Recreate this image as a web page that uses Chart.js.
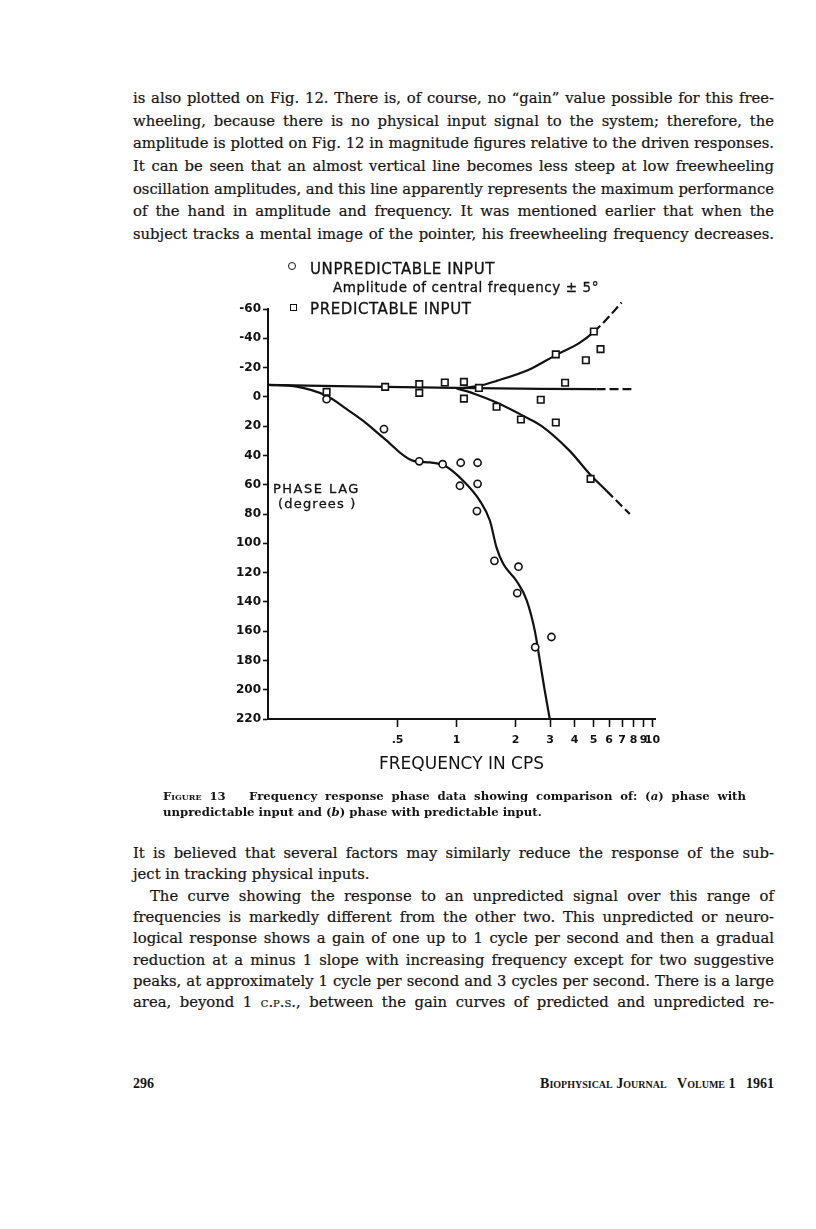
<!DOCTYPE html>
<html>
<head>
<meta charset="utf-8">
<script src="https://cdn.jsdelivr.net/npm/chart.js@4.4.1/dist/chart.umd.min.js"></script>
<style>
  html, body { margin: 0; padding: 0; background: #fff; }
  #page { position: relative; width: 816px; height: 1229px; overflow: hidden; color: #141414;
          font-family: 'DejaVu Serif', 'Liberation Serif', serif; }
  .ln { position: absolute; left: 133px; width: 641px; font-size: 14.8px; line-height: 20px;
        white-space: nowrap; text-align: justify; text-align-last: justify; -webkit-text-stroke: 0.2px #141414; }
  .ln.last { text-align: left; text-align-last: left; }
  .ln.ind { left: 150px; width: 624px; }
  .cap { position: absolute; left: 163px; width: 583px; font-size: 11.7px; line-height: 16px;
         font-weight: bold; white-space: nowrap; text-align: justify; text-align-last: justify; }
  .cap.last { text-align: left; text-align-last: left; }
  .sc { font-variant: small-caps; }
  .lab { position: absolute; font-family: 'DejaVu Sans', sans-serif; white-space: nowrap; color: #111;
         -webkit-text-stroke: 0.3px #111; }
  .mk { position: absolute; border: 1.6px solid #111; box-sizing: border-box; background: #fff; }
  .foot { position: absolute; top: 1076px; font-family: 'Liberation Serif', serif; font-size: 14px;
          line-height: 16px; font-weight: bold; }
  #chartBox { position: absolute; left: 200px; top: 290px; width: 480px; height: 500px; }
</style>
</head>
<body>
<div id="page">

  <!-- text above the figure -->
  <div class="ln" style="top:88px">is also plotted on Fig. 12. There is, of course, no “gain” value possible for this free-</div>
  <div class="ln" style="top:111px">wheeling, because there is no physical input signal to the system; therefore, the</div>
  <div class="ln" style="top:133px">amplitude is plotted on Fig. 12 in magnitude figures relative to the driven responses.</div>
  <div class="ln" style="top:156px">It can be seen that an almost vertical line becomes less steep at low freewheeling</div>
  <div class="ln" style="top:179px">oscillation amplitudes, and this line apparently represents the maximum performance</div>
  <div class="ln" style="top:201px">of the hand in amplitude and frequency. It was mentioned earlier that when the</div>
  <div class="ln" style="top:224px">subject tracks a mental image of the pointer, his freewheeling frequency decreases.</div>

  <!-- figure -->
  <div id="chartBox"><canvas id="phaseChart"></canvas></div>

  <div class="mk" style="left:288px; top:262px; width:8px; height:8px; border-radius:50%"></div>
  <div class="lab" style="left:310px; top:262px; font-size:15px; line-height:15px; letter-spacing:0.6px">UNPREDICTABLE INPUT</div>
  <div class="lab" style="left:333px; top:281px; font-size:13.5px; line-height:13.5px; letter-spacing:0.6px">Amplitude of central frequency ± 5°</div>
  <div class="mk" style="left:290px; top:304px; width:7px; height:7px"></div>
  <div class="lab" style="left:310px; top:302px; font-size:15px; line-height:15px; letter-spacing:0.6px">PREDICTABLE INPUT</div>
  <div class="lab" style="left:273px; top:482px; font-size:13px; line-height:13px; letter-spacing:1.5px; background:#fff">PHASE LAG</div>
  <div class="lab" style="left:278px; top:497px; font-size:13px; line-height:13px; letter-spacing:1.2px; background:#fff">(degrees )</div>

  <!-- caption -->
  <div class="cap" style="top:788px"><span class="sc">Figure</span> 13&nbsp;&nbsp; Frequency response phase data showing comparison of: (<i>a</i>) phase with</div>
  <div class="cap last" style="top:804px">unpredictable input and (<i>b</i>) phase with predictable input.</div>

  <!-- text below the figure -->
  <div class="ln" style="top:843px">It is believed that several factors may similarly reduce the response of the sub-</div>
  <div class="ln last" style="top:864px">ject in tracking physical inputs.</div>
  <div class="ln ind" style="top:886px">The curve showing the response to an unpredicted signal over this range of</div>
  <div class="ln" style="top:907px">frequencies is markedly different from the other two. This unpredicted or neuro-</div>
  <div class="ln" style="top:928px">logical response shows a gain of one up to 1 cycle per second and then a gradual</div>
  <div class="ln" style="top:950px">reduction at a minus 1 slope with increasing frequency except for two suggestive</div>
  <div class="ln" style="top:971px">peaks, at approximately 1 cycle per second and 3 cycles per second. There is a large</div>
  <div class="ln" style="top:992px">area, beyond 1 <span class="sc">c.p.s.</span>, between the gain curves of predicted and unpredicted re-</div>

  <!-- running foot -->
  <div class="foot" style="left:133px">296</div>
  <div class="foot" style="right:42px"><span class="sc">Biophysical Journal</span>&nbsp;&nbsp; <span class="sc">Volume</span> 1&nbsp;&nbsp; 1961</div>
</div>

<script>
// measured points, unpredictable input (circles)
const unpredFreq  = [0.217, 0.426, 0.645, 0.849, 1.05, 1.28, 1.04, 1.28, 1.27, 1.56, 2.07, 2.04, 2.52, 3.05];
const unpredPhase = [1.6, 22, 44, 46, 45, 45, 60.7, 59.4, 78, 112, 116, 134, 171, 164];

// measured points, predictable input (squares)
const predFreq  = [0.217, 0.432, 0.645, 0.645, 0.871, 1.09, 1.09, 1.30, 1.60, 2.13, 2.69, 3.21, 3.21, 3.58, 4.57, 5.02, 5.43, 4.83];
const predPhase = [-3.4, -6.8, -8.7, -2.7, -9.8, -10.2, 1.2, -6.1, 6.8, 15.5, 2, -29, 17.5, -9.6, -25, -44.6, -32.6, 56];

// hand drawn curves
const unpredCurveFreq  = [0.109, 0.153, 0.217, 0.275, 0.334, 0.422, 0.601, 0.731, 0.871, 1.08, 1.315, 1.48, 1.60, 1.73, 2.02, 2.28, 2.51, 2.66, 2.82, 2.99];
const unpredCurvePhase = [-8.2, -7.0, -0.7, 8.4, 16.4, 27.8, 43.7, 44.8, 47.1, 57.3, 71, 84.6, 103, 114, 125.6, 139, 160, 180, 200.7, 220];

const flatCurveFreq  = [0.109, 0.43, 1.08, 2.7, 5.18, 7.8];
const flatCurvePhase = [-8.2, -6.8, -6.1, -5.5, -5.3, -5.3];

const riseCurveFreq  = [1.04, 1.3, 1.6, 2.37, 3.21, 4.26, 5.02, 5.83, 6.95];
const riseCurvePhase = [-5.8, -7.5, -10.9, -18.9, -28.5, -37, -44.4, -53, -64.4];

const fallCurveFreq  = [1.0, 1.24, 1.6, 2.19, 2.71, 3.78, 4.79, 5.83, 7.66];
const fallCurvePhase = [-5.8, -2, 3.9, 13, 19.8, 36.9, 52.8, 64.2, 80];

// axes
const xTickValues = [0.5, 1, 2, 3, 4, 5, 6, 7, 8, 9, 10];
const xTickLabels = ['.5', '1', '2', '3', '4', '5', '6', '7', '8', '9', '10'];
const yTickValues = [-60, -40, -20, 0, 20, 40, 60, 80, 100, 120, 140, 160, 180, 200, 220];

const INK = '#111';
const DASH_FROM = 5; // predictable curves are dashed past ~5 cps

// squeeze any text line that ends up wider than its box
document.querySelectorAll('.ln, .cap').forEach(el => {
  const over = el.scrollWidth - el.clientWidth;
  if (over > 0) el.style.letterSpacing = (-over / el.textContent.length).toFixed(3) + 'px';
});

const toXY = (xs, ys) => xs.map((x, i) => ({ x: x, y: ys[i] }));

function curve(xs, ys, dashed) {
  return {
    data: toXY(xs, ys),
    showLine: true,
    borderColor: INK,
    borderWidth: 2.2,
    pointRadius: 0,
    cubicInterpolationMode: 'monotone',
    clip: false,
    segment: dashed ? {
      borderDash: ctx => ctx.p0.parsed.x >= DASH_FROM ? [9, 4] : undefined
    } : {}
  };
}

Chart.defaults.font.family = "'DejaVu Sans', sans-serif";
Chart.defaults.color = INK;

new Chart(document.getElementById('phaseChart'), {
  type: 'scatter',
  data: {
    datasets: [
      {
        data: toXY(unpredFreq, unpredPhase),
        pointStyle: 'circle',
        pointRadius: 3.6,
        borderWidth: 1.6,
        borderColor: INK,
        backgroundColor: '#fff',
        clip: false
      },
      {
        data: toXY(predFreq, predPhase),
        pointStyle: 'rect',
        pointRadius: 4.6,
        borderWidth: 1.6,
        borderColor: INK,
        backgroundColor: '#fff',
        clip: false
      },
      curve(unpredCurveFreq, unpredCurvePhase, false),
      curve(flatCurveFreq, flatCurvePhase, true),
      curve(riseCurveFreq, riseCurvePhase, true),
      curve(fallCurveFreq, fallCurvePhase, true)
    ]
  },
  options: {
    responsive: true,
    maintainAspectRatio: false,
    animation: false,
    layout: { padding: { top: 19, right: 25, left: 0, bottom: 0 } },
    plugins: {
      legend: { display: false },
      tooltip: { enabled: false }
    },
    scales: {
      x: {
        type: 'logarithmic',
        min: 0.109,
        max: 10.3,
        afterFit: scale => { scale.height = 71; },
        afterBuildTicks: scale => { scale.ticks = xTickValues.map(v => ({ value: v })); },
        border: { display: true, color: INK, width: 2 },
        grid: { drawOnChartArea: false, drawTicks: true, tickLength: 8, tickColor: INK, tickWidth: 1.6 },
        ticks: {
          autoSkip: false,
          maxRotation: 0,
          padding: 7,
          color: INK,
          font: { size: 11, weight: 'bold' },
          callback: v => {
            const i = xTickValues.indexOf(v);
            return i >= 0 ? xTickLabels[i] : '';
          }
        },
        title: {
          display: true,
          text: 'FREQUENCY IN CPS',
          color: INK,
          font: { size: 17 },
          padding: { top: 0, bottom: 15 }
        }
      },
      y: {
        type: 'linear',
        reverse: true,
        min: -60,
        max: 220,
        afterFit: scale => { scale.width = 68; },
        afterBuildTicks: scale => { scale.ticks = yTickValues.map(v => ({ value: v })); },
        border: { display: true, color: INK, width: 2 },
        grid: { drawOnChartArea: false, drawTicks: true, tickLength: 5, tickColor: INK, tickWidth: 1.6 },
        ticks: {
          padding: 2,
          color: INK,
          font: { size: 12, weight: 'bold' }
        }
      }
    }
  }
});
</script>
</body>
</html>
